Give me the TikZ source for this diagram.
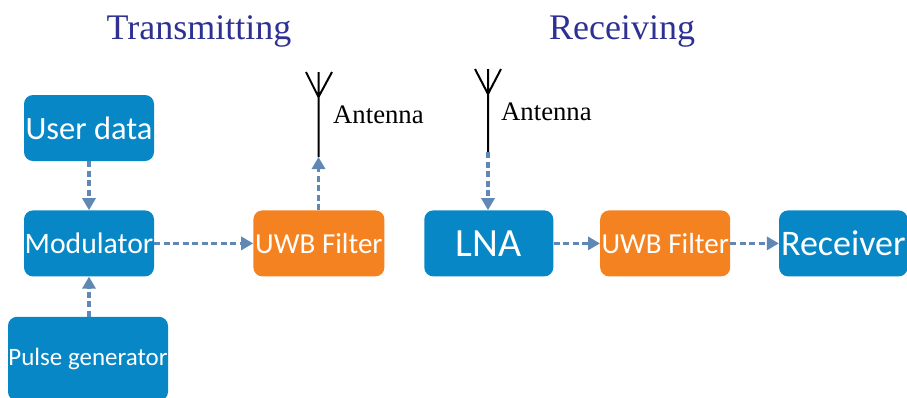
\documentclass[tikz,border=0pt]{standalone}
\usepackage{fontspec}
\setmainfont{Liberation Serif}
\newfontfamily\boxfont{Carlito}
\usetikzlibrary{positioning, arrows.meta}
\definecolor{boxblue}{HTML}{0787C6}
\definecolor{boxorange}{HTML}{F58220}
\definecolor{linkblue}{HTML}{5F88B4}
\definecolor{titleblue}{HTML}{2E3192}
\tikzset{
  block/.style={
    fill=boxblue, text=white, rounded corners=9pt, inner sep=0pt,
    minimum width=130pt, minimum height=66pt,
    font=\boxfont\fontsize{32.5}{36}\selectfont
  },
  filterblock/.style={
    block, fill=boxorange, font=\boxfont\fontsize{29}{32}\selectfont
  },
  link/.style={
    -{Triangle[length=12pt,width=13pt]}, draw=linkblue, line width=3.2pt,
    dash pattern=on 6pt off 3.5pt
  },
  mast/.style={draw=black, line width=2pt},
  title/.style={text=titleblue, font=\fontsize{36}{40}\selectfont},
  label/.style={text=black, font=\fontsize{26.7}{30}\selectfont},
  x=1pt, y=1pt
}

\begin{document}
\begin{tikzpicture}
    \useasboundingbox (0,0) rectangle (907,-397);

    \node[title] (ttx) at (199,-31) {Transmitting};
    \node[title] (trx) at (622,-31) {Receiving};

    % transmitting side
    \node[block] (user) at (89,-128) {User data};
    \node[block, below = 49pt of user, font=\boxfont\fontsize{29.7}{32}\selectfont] (mod) {Modulator};
    \node[block, below = 40pt of mod, xshift=-1pt, minimum width=160pt, minimum height=84pt,
          font=\boxfont\fontsize{25}{28}\selectfont] (pulse) {Pulse generator};
    \node[filterblock, right = 99pt of mod, minimum width=131pt] (filta) {UWB Filter};

    % receiving side
    \node[block, right = 39.5pt of filta, minimum width=129pt, font=\boxfont\fontsize{40}{44}\selectfont] (lna) {LNA};
    \node[filterblock, right = 46.5pt of lna] (filtb) {UWB Filter};
    \node[block, right = 48.5pt of filtb, minimum width=128.5pt, font=\boxfont\fontsize{36}{40}\selectfont] (recv) {Receiver};

    % antennas
    \coordinate (anta) at (318.5,-157);
    \coordinate (jta) at (318.5,-97);
    \coordinate (tipa) at (318.5,-72);
    \coordinate (antb) at (488,-152);
    \coordinate (jtb) at (488,-94);
    \coordinate (tipb) at (488,-69);
    \node[label, anchor=west, inner sep=0pt] (laba) at (333,-115) {Antenna};
    \node[label, anchor=west, inner sep=0pt] (labb) at (501,-112) {Antenna};

    \draw[mast] (anta) -- (tipa)
                (306,-72) -- (jta) -- (332,-72);
    \draw[mast] (antb) -- (tipb)
                (475,-69) -- (jtb) -- (501,-69);

    \draw[link] (user) -- (mod);
    \draw[link] (pulse.north -| mod) -- (mod);
    \draw[link] (mod) -- (filta);
    \draw[link] (filta.north -| anta) -- (anta);
    \draw[link] (antb) -- (lna.north -| antb);
    \draw[link] (lna) -- (filtb);
    \draw[link] (filtb) -- (recv);
\end{tikzpicture}
\end{document}
